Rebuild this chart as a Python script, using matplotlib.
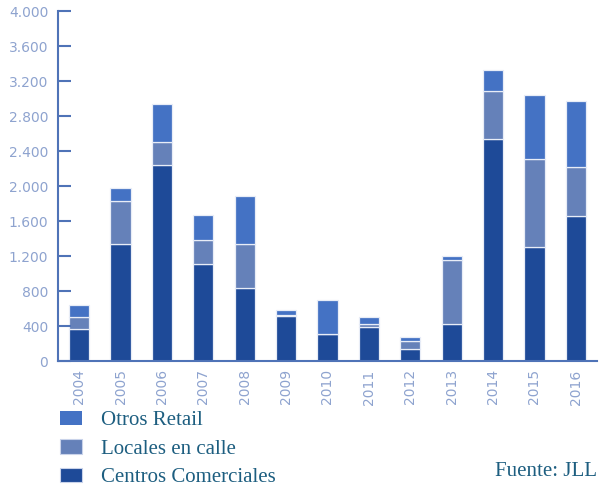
import numpy as np
from matplotlib import pyplot as plt
from matplotlib.patches import Patch

# Inversion retail por tipo de activo (millones de euros)
years = ['2004', '2005', '2006', '2007', '2008', '2009', '2010',
         '2011', '2012', '2013', '2014', '2015', '2016']
centros = [370, 1337, 2240, 1110, 830, 515, 310, 390, 135, 425, 2535, 1300, 1660]
locales = [130, 488, 267, 274, 510, 16, 0, 34, 91, 728, 552, 1010, 553]
otros = [140, 152, 430, 286, 545, 53, 388, 80, 49, 46, 240, 730, 758]

y_ticks = [0, 400, 800, 1200, 1600, 2000, 2400, 2800, 3200, 3600, 4000]
y_labels = ['0', '400', '800', '1.200', '1.600', '2.000', '2.400',
            '2.800', '3.200', '3.600', '4.000']

c_otros = '#4472c4'
c_locales = '#6581b9'
c_centros = '#1e4a98'
axis_col = '#4f73b7'
label_col = '#8ea3cf'
text_col = '#1d5e80'

fig = plt.figure(figsize=(6.03, 4.87), dpi=100)
ax = fig.add_axes([0.0962, 0.2587, 0.8938, 0.7187])

x = np.arange(len(years))
w = 0.49
c = np.array(centros)
l = np.array(locales)
o = np.array(otros)
ax.bar(x, c, w, color=c_centros, edgecolor='#e8edf7', linewidth=0.9)
ax.bar(x, l, w, bottom=c, color=c_locales, edgecolor='#e8edf7', linewidth=0.9)
ax.bar(x, o, w, bottom=c + l, color=c_otros, edgecolor='#e8edf7', linewidth=0.9)

ax.set_xlim(-0.51, 12.51)
ax.set_ylim(0, 4000)
ax.set_xticks(x)
ax.set_xticklabels(years, rotation=90)
ax.set_yticks(y_ticks)
ax.set_yticklabels(y_labels)

for s in ['top', 'right']:
    ax.spines[s].set_visible(False)
for s in ['left', 'bottom']:
    ax.spines[s].set_color(axis_col)
    ax.spines[s].set_linewidth(1.5)
ax.tick_params(axis='y', direction='in', length=9.5, width=1.5, color=axis_col,
               labelcolor=label_col, labelsize=10, pad=7)
ax.tick_params(axis='x', length=0, labelcolor=label_col, labelsize=10, pad=6)

handles = [Patch(facecolor=c_otros, edgecolor='none'),
           Patch(facecolor=c_locales, edgecolor='#c9d3ea', linewidth=0.8),
           Patch(facecolor=c_centros, edgecolor='#c9d3ea', linewidth=0.8)]
fig.legend(handles, ['Otros Retail', 'Locales en calle', 'Centros Comerciales'],
           loc='upper left', bbox_to_anchor=(0.0857, 0.174), frameon=False,
           prop={'family': 'Liberation Serif', 'size': 15},
           labelcolor=text_col, handlelength=1.06, handleheight=0.72,
           handletextpad=0.91, labelspacing=0.42, borderaxespad=0)

fig.text(0.99, 0.012, 'Fuente: JLL', family='Liberation Serif', size=15,
         color=text_col, ha='right', va='bottom')

fig.savefig('out.png', dpi=100)
